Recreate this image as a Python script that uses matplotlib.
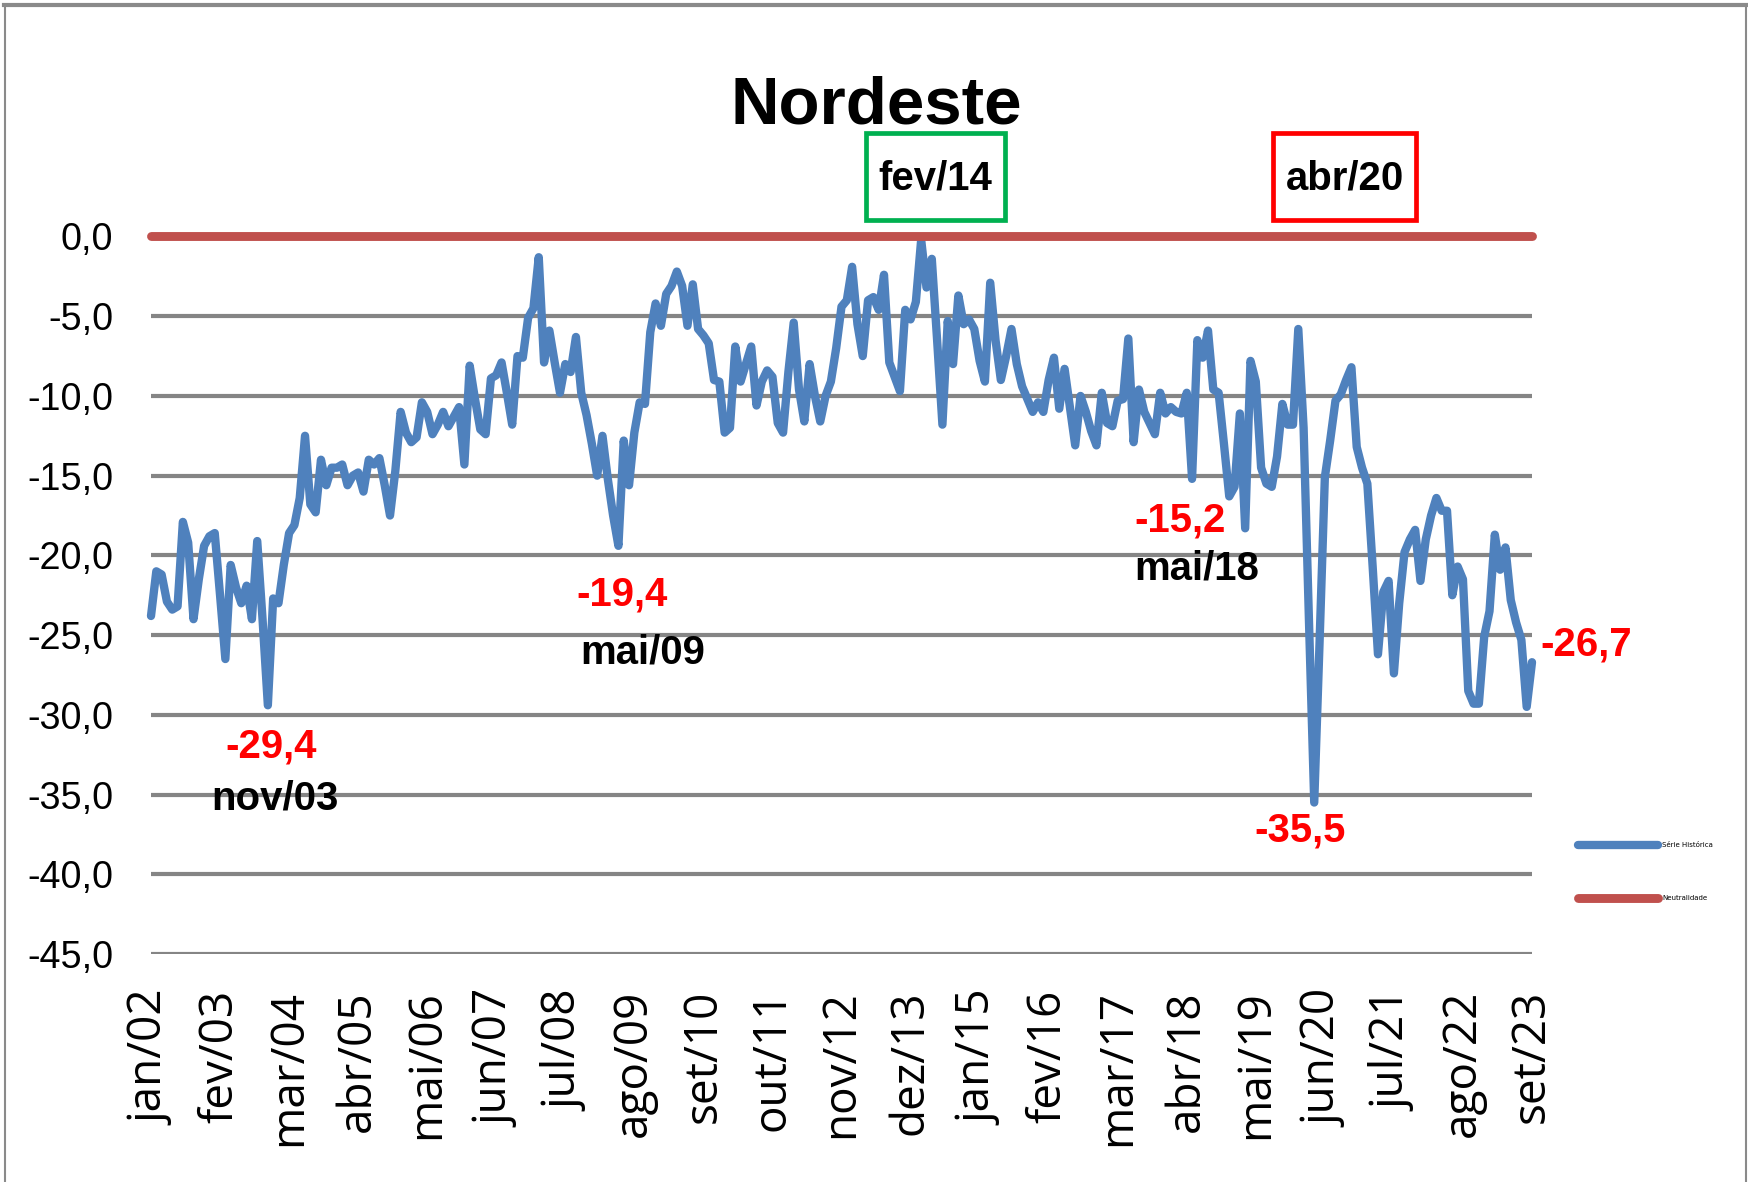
import numpy as np
import matplotlib
matplotlib.use("Agg")
import matplotlib.pyplot as plt
from matplotlib import font_manager as fm
from matplotlib.lines import Line2D
from matplotlib.patches import Rectangle

# ---------------- data ----------------
v2002 = [-23.8, -21.0, -21.2, -22.9, -23.4, -23.2, -17.9, -19.2, -24.0, -21.5, -19.4, -18.8]
v2003 = [-18.6, -22.5, -26.5, -20.6, -22.0, -23.0, -21.9, -24.0, -19.1, -24.0, -29.4, -22.7]
v2004 = [-23.0, -20.6, -18.6, -18.1, -16.4, -12.5, -16.8, -17.3, -14.0, -15.6, -14.5, -14.5]
v2005 = [-14.3, -15.6, -15.0, -14.8, -16.0, -14.0, -14.3, -13.9, -15.6, -17.5, -14.7, -11.0]
v2006 = [-12.3, -12.9, -12.6, -10.4, -11.0, -12.4, -11.8, -11.0, -11.9, -11.3, -10.7, -14.3]
v2007 = [-8.1, -10.2, -12.1, -12.4, -8.9, -8.7, -7.9, -9.8, -11.8, -7.5, -7.6, -5.1]
v2008 = [-4.5, -1.3, -7.9, -5.9, -7.9, -9.8, -8.0, -8.5, -6.3, -9.8, -11.2, -13.0]
v2009 = [-15.0, -12.5, -15.2, -17.5, -19.4, -12.8, -15.6, -12.3, -10.4, -10.5, -6.0, -4.2]
v2010 = [-5.6, -3.6, -3.1, -2.2, -3.1, -5.6, -3.0, -5.8, -6.2, -6.7, -9.0, -9.1]
v2011 = [-12.3, -12.0, -6.9, -9.1, -8.0, -6.9, -10.6, -9.1, -8.4, -8.8, -11.7, -12.3]
v2012 = [-8.5, -5.4, -9.6, -11.6, -8.0, -10.0, -11.6, -10.0, -9.1, -7.0, -4.4, -4.0]
v2013 = [-1.9, -5.5, -7.5, -4.0, -3.8, -4.6, -2.4, -7.9, -8.8, -9.7, -4.6, -5.2]
v2014 = [-4.1, -0.2, -3.2, -1.4, -6.5, -11.8, -5.3, -8.0, -3.7, -5.5, -5.2, -5.8]
v2015 = [-7.8, -9.1, -2.9, -6.5, -9.0, -7.5, -5.8, -8.0, -9.4, -10.2, -11.0, -10.4]
v2016 = [-11.0, -9.0, -7.6, -10.8, -8.3, -10.7, -13.1, -10.0, -11.0, -12.2, -13.1, -9.8]
v2017 = [-11.7, -11.9, -10.3, -10.2, -6.4, -12.9, -9.6, -11.0, -11.7, -12.4, -9.8, -11.1]
v2018 = [-10.7, -11.0, -11.1, -9.8, -15.2, -6.5, -7.6, -5.9, -9.6, -9.8, -13.0, -16.3]
v2019 = [-15.7, -11.1, -18.3, -7.8, -9.1, -14.5, -15.5, -15.7, -13.8, -10.5, -11.8, -11.8]
v2020 = [-5.8, -12.0, -24.0, -35.5, -25.5, -15.1, -12.8, -10.3, -9.9, -9.0, -8.2, -13.2]
v2021 = [-14.5, -15.5, -20.7, -26.2, -22.3, -21.6, -27.4, -23.0, -19.8, -19.0, -18.4, -21.6]
v2022 = [-19.0, -17.5, -16.4, -17.2, -17.2, -22.5, -20.7, -21.5, -28.5, -29.3, -29.3, -25.1]
v2023 = [-23.5, -18.7, -20.9, -19.5, -22.8, -24.2, -25.3, -29.5, -26.7]

serie = (v2002 + v2003 + v2004 + v2005 + v2006 + v2007 + v2008 + v2009 + v2010 +
         v2011 + v2012 + v2013 + v2014 + v2015 + v2016 + v2017 + v2018 + v2019 +
         v2020 + v2021 + v2022 + v2023)
neutral_level = 0.0

x_tick_labels = ["jan/02", "fev/03", "mar/04", "abr/05", "mai/06", "jun/07", "jul/08",
                 "ago/09", "set/10", "out/11", "nov/12", "dez/13", "jan/15", "fev/16",
                 "mar/17", "abr/18", "mai/19", "jun/20", "jul/21", "ago/22", "set/23"]
x_tick_step = 13
y_ticks = [0, -5, -10, -15, -20, -25, -30, -35, -40, -45]
y_tick_labels = ["0,0", "-5,0", "-10,0", "-15,0", "-20,0", "-25,0", "-30,0", "-35,0", "-40,0", "-45,0"]

series_names = ["Série Histórica", "Neutralidade"]

# ---------------- fonts ----------------
names = {f.name for f in fm.fontManager.ttflist}
NARROW = "Liberation Sans Narrow" if "Liberation Sans Narrow" in names else "Liberation Sans"
NARROW_SCALE = 1.0 if NARROW == "Liberation Sans Narrow" else 0.85
XFONT = "Open Sans" if "Open Sans" in names else "DejaVu Sans"

# ---------------- figure ----------------
W, H = 1749, 1182
fig = plt.figure(figsize=(W / 100, H / 100), dpi=100)


def fx(px):
    return px / W


def fy(py):
    return 1 - py / H


ax = fig.add_axes([fx(151), fy(954), (1532 - 151) / W, (954 - 236.5) / H])

idx = np.arange(len(serie))
ax.plot(idx, serie, color="#4F81BD", lw=6.0, solid_joinstyle="round",
        solid_capstyle="round", zorder=3, clip_on=False, label=series_names[0])
ax.plot(idx, [neutral_level] * len(serie), color="#C0504D", lw=6.4,
        solid_capstyle="round", zorder=4, clip_on=False, label=series_names[1])

ax.set_xlim(0, len(serie) - 1)
ax.set_ylim(-45, 0)
ax.set_yticks(y_ticks)
ax.set_yticklabels(y_tick_labels, fontsize=32 * NARROW_SCALE, family=[NARROW, "DejaVu Sans"])
ax.set_xticks(np.arange(0, len(serie), x_tick_step))
ax.set_xticklabels(x_tick_labels, rotation=90, fontsize=33, family=[XFONT, "DejaVu Sans"])
ax.tick_params(axis="both", length=0)
ax.tick_params(axis="y", pad=27)
ax.tick_params(axis="x", pad=26)
ax.yaxis.grid(True, color="#858585", lw=3.0)
ax.set_axisbelow(True)
for s in ax.spines.values():
    s.set_visible(False)

ax.legend(loc="upper left", bbox_to_anchor=(fx(1572), fy(836)), bbox_transform=fig.transFigure,
          frameon=False, fontsize=5, handlelength=11.5, labelspacing=6.8, handletextpad=0.6)

# ---------------- texts ----------------
nb = dict(family=[NARROW, "DejaVu Sans"], fontweight="bold", ha="center", va="center")
ann = 34 * NARROW_SCALE
fig.text(fx(876), fy(106), "Nordeste", fontsize=57 * NARROW_SCALE, **nb)
fig.text(fx(271), fy(747), "-29,4", fontsize=ann, color="#FF0000", **nb)
fig.text(fx(275), fy(798), "nov/03", fontsize=ann, color="black", **nb)
fig.text(fx(622), fy(595), "-19,4", fontsize=ann, color="#FF0000", **nb)
fig.text(fx(643), fy(653), "mai/09", fontsize=ann, color="black", **nb)
fig.text(fx(1180), fy(520), "-15,2", fontsize=ann, color="#FF0000", **nb)
fig.text(fx(1197), fy(569), "mai/18", fontsize=ann, color="black", **nb)
fig.text(fx(1300), fy(831), "-35,5", fontsize=ann, color="#FF0000", **nb)
fig.text(fx(1586), fy(645), "-26,7", fontsize=ann, color="#FF0000", **nb)
fig.text(fx(935), fy(178), "fev/14", fontsize=ann, color="black", **nb)
fig.text(fx(1345), fy(178), "abr/20", fontsize=ann, color="black", **nb)

fig.patches.append(Rectangle((fx(866), fy(220)), (1005 - 866) / W, (220 - 133) / H,
                             transform=fig.transFigure, fill=False, edgecolor="#00B050", lw=3.4))
fig.patches.append(Rectangle((fx(1273), fy(220)), (1416 - 1273) / W, (220 - 133) / H,
                             transform=fig.transFigure, fill=False, edgecolor="#FF0000", lw=3.4))

# chart border
fig.lines.append(Line2D([fx(4), fx(1746)], [fy(4.5), fy(4.5)], transform=fig.transFigure,
                        color="#8a8a8a", lw=3))
fig.lines.append(Line2D([fx(5), fx(5)], [fy(4.5), 0], transform=fig.transFigure,
                        color="#8a8a8a", lw=1.5))
fig.lines.append(Line2D([fx(1746), fx(1746)], [fy(4.5), 0], transform=fig.transFigure,
                        color="#8a8a8a", lw=1.5))

fig.savefig("out.png", dpi=100, facecolor="white")
